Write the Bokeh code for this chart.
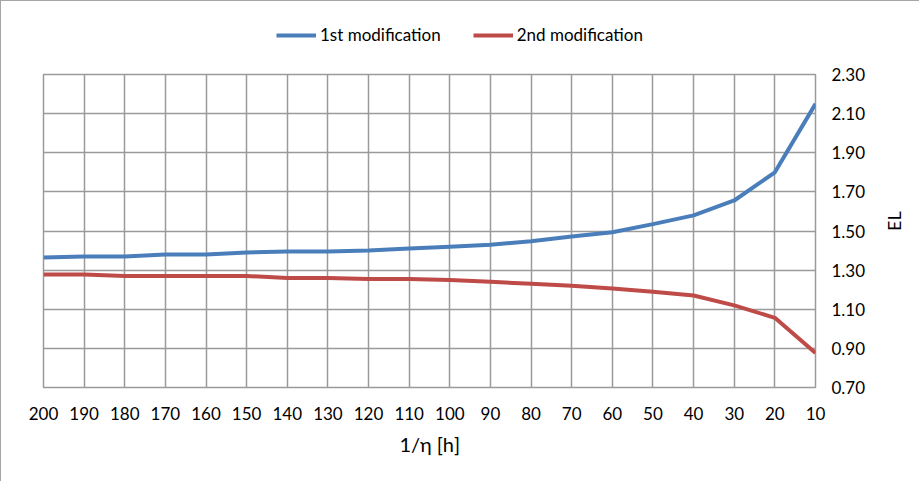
from bokeh.plotting import figure
from bokeh.layouts import column
from bokeh.models import (LinearAxis, FixedTicker, NumeralTickFormatter, Legend,
                          LegendItem, Range1d, ColumnDataSource)
from bokeh.embed import file_html
from bokeh.resources import INLINE

categories = ["200", "190", "180", "170", "160", "150", "140", "130", "120", "110",
              "100", "90", "80", "70", "60", "50", "40", "30", "20", "10"]
first_mod = [1.364, 1.37, 1.37, 1.38, 1.38, 1.39, 1.395, 1.395, 1.40, 1.41,
             1.42, 1.43, 1.448, 1.472, 1.494, 1.535, 1.58, 1.656, 1.80, 2.15]
second_mod = [1.278, 1.278, 1.27, 1.27, 1.27, 1.27, 1.26, 1.26, 1.254, 1.254,
              1.25, 1.24, 1.23, 1.22, 1.206, 1.19, 1.17, 1.12, 1.056, 0.877]
series_names = ["1st modification", "2nd modification"]
y_ticks = [0.70, 0.90, 1.10, 1.30, 1.50, 1.70, 1.90, 2.10, 2.30]

FONT = "Lato"
GRID = "#9a9a9a"
BLUE = "#4A7EBB"
RED = "#BE4B48"

xs = list(range(len(categories)))
src = ColumnDataSource(dict(x=xs, a=first_mod, b=second_mod))

# ---- legend strip (separate figure above the chart) ----
top = figure(frame_width=772, frame_height=61,
             min_border_left=42, min_border_right=0, min_border_top=0, min_border_bottom=0,
             x_axis_location=None, y_axis_location=None,
             output_backend="svg", toolbar_location=None)
top.grid.visible = False
top.outline_line_color = None
top.background_fill_color = "white"
top.border_fill_color = "white"
# one-point lines: nothing is drawn in the strip, they only carry the legend styling
l1 = top.line(x=xs[:1], y=first_mod[:1], line_color=BLUE, line_width=4)
l2 = top.line(x=xs[:1], y=second_mod[:1], line_color=RED, line_width=4)
legend = Legend(items=[LegendItem(label=series_names[0], renderers=[l1]),
                       LegendItem(label=series_names[1], renderers=[l2])],
                orientation="horizontal", location=(233, 17),
                padding=0, margin=0, spacing=32, label_standoff=4,
                glyph_width=40, glyph_height=20,
                label_text_font=FONT, label_text_font_size="17px",
                label_text_color="#000000",
                border_line_color=None, background_fill_alpha=0)
top.add_layout(legend, "center")

# ---- main chart ----
p = figure(frame_width=772, frame_height=313,
           min_border_left=42, min_border_right=0, min_border_top=12, min_border_bottom=94,
           x_range=Range1d(0, len(categories) - 1), y_range=Range1d(y_ticks[0], y_ticks[-1]),
           output_backend="svg", toolbar_location=None, y_axis_location=None)
p.outline_line_color = GRID
p.outline_line_width = 1.5
p.background_fill_color = "white"
p.border_fill_color = "white"

yaxis = LinearAxis(ticker=FixedTicker(ticks=y_ticks),
                   formatter=NumeralTickFormatter(format="0.00"),
                   axis_label="EL")
p.add_layout(yaxis, "right")

xaxis = p.xaxis[0]
xaxis.ticker = FixedTicker(ticks=xs)
xaxis.major_label_overrides = {i: c for i, c in zip(xs, categories)}
xaxis.axis_label = "1/η [h]"

for ax in (xaxis, yaxis):
    ax.axis_line_color = None
    ax.major_tick_line_color = None
    ax.minor_tick_line_color = None
    ax.major_tick_out = 0
    ax.major_tick_in = 0
    ax.minor_tick_out = 0
    ax.major_label_text_font = FONT
    ax.major_label_text_font_size = "17px"
    ax.major_label_text_color = "#000000"
    ax.axis_label_text_font = FONT
    ax.axis_label_text_font_style = "normal"
    ax.axis_label_text_color = "#000000"

xaxis.major_label_standoff = 19
xaxis.axis_label_standoff = 9
xaxis.axis_label_text_font_size = "20px"
yaxis.major_label_standoff = 16
yaxis.axis_label_standoff = 26
yaxis.axis_label_text_font_size = "18px"
try:
    yaxis.axis_label_orientation = 1.5707963
except Exception:
    pass

p.xgrid.grid_line_color = GRID
p.xgrid.grid_line_width = 1.5
p.ygrid.grid_line_color = GRID
p.ygrid.grid_line_width = 1.5
p.ygrid.ticker = yaxis.ticker
p.xgrid.ticker = xaxis.ticker

p.line("x", "a", source=src, line_color=BLUE, line_width=4)
p.line("x", "b", source=src, line_color=RED, line_width=4)

layout = column(top, p, spacing=0)
layout.styles = {"border-left": "1px solid #a6a6a6", "border-top": "1px solid #a6a6a6"}
open("out.html", "w").write(file_html(layout, INLINE))
